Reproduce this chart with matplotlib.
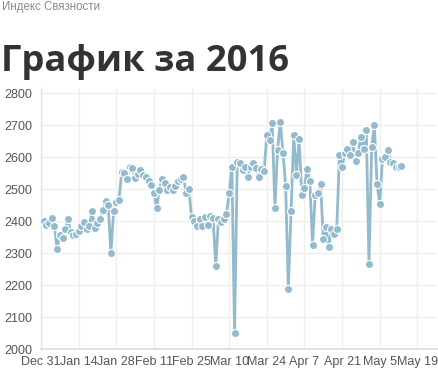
import matplotlib
matplotlib.use("Agg")
import matplotlib.pyplot as plt
import matplotlib.dates as mdates
import numpy as np
import pandas as pd

# ---- data ----
start_date = "2016-01-01"
values = [
    2400, 2388, 2395, 2409, 2384, 2314, 2357, 2347, 2374, 2408,
    2366, 2355, 2358, 2370, 2385, 2398, 2376, 2385, 2430, 2379,
    2393, 2408, 2435, 2462, 2450, 2300, 2430, 2460, 2466, 2553,
    2549, 2530, 2570, 2567, 2534, 2547, 2559, 2544, 2538, 2525,
    2513, 2489, 2441, 2497, 2533, 2518, 2498, 2507, 2497, 2509,
    2526, 2530, 2539, 2488, 2500, 2412, 2401, 2385, 2405, 2383,
    2412, 2387, 2416, 2410, 2260, 2405, 2397, 2405, 2422, 2487,
    2570, 2050, 2585, 2580, 2561, 2570, 2538, 2570, 2583, 2566,
    2539, 2562, 2558, 2668, 2653, 2708, 2442, 2623, 2711, 2614,
    2511, 2188, 2432, 2668, 2544, 2656, 2483, 2503, 2563, 2525,
    2326, 2481, 2487, 2517, 2343, 2380, 2319, 2376, 2360, 2375,
    2607, 2570, 2612, 2625, 2608, 2648, 2588, 2614, 2663, 2624,
    2686, 2265, 2631, 2699, 2516, 2453, 2593, 2601, 2623, 2586,
    2583, 2569, 2570, 2572,
]
xtick_dates = ["2015-12-31", "2016-01-14", "2016-01-28", "2016-02-11", "2016-02-25",
               "2016-03-10", "2016-03-24", "2016-04-07", "2016-04-21", "2016-05-05",
               "2016-05-19"]
xtick_labels = ["Dec 31", "Jan 14", "Jan 28", "Feb 11", "Feb 25", "Mar 10",
                "Mar 24", "Apr 7", "Apr 21", "May 5", "May 19"]
yticks = [2000, 2100, 2200, 2300, 2400, 2500, 2600, 2700, 2800]
subtitle = "Индекс Связности"
title = "График за 2016"

dates = pd.date_range(start_date, periods=len(values), freq="D")

W, H = 439, 373
fig = plt.figure(figsize=(W / 100, H / 100), dpi=100)
fig.patch.set_facecolor("white")

ax = fig.add_axes([41 / W, 1 - 349 / H, (437 - 41) / W, (349 - 88) / H])
ax.set_facecolor("white")

line_color = "#93bacd"
ax.plot(dates, values, color=line_color, lw=2, zorder=3, solid_joinstyle="round")
ax.scatter(dates, values, s=34, color=line_color, edgecolor="white", linewidths=0.8, zorder=4)

x0 = pd.Timestamp(xtick_dates[0])
ax.set_xlim(x0, x0 + pd.Timedelta(days=147.3))
ax.set_ylim(2000, 2816)

ax.set_xticks([pd.Timestamp(d) for d in xtick_dates])
ax.set_xticklabels(xtick_labels)
ax.set_yticks(yticks)
ax.set_yticklabels([str(v) for v in yticks])

ax.grid(True, color="#efefef", lw=1, zorder=0)
for s in ["top", "right"]:
    ax.spines[s].set_visible(False)
ax.spines["left"].set_color("#e6e6e6")
ax.spines["bottom"].set_color("#dcdcdc")
ax.spines["left"].set_linewidth(1)
ax.spines["bottom"].set_linewidth(1.2)
ax.tick_params(length=0, labelsize=9, labelcolor="#555555", pad=6)
ax.tick_params(axis="x", pad=5)
for lab in ax.get_xticklabels() + ax.get_yticklabels():
    lab.set_family("Liberation Sans")

fig.text(2 / W, 1 - 1 / H, subtitle, ha="left", va="top", fontsize=8.3,
         color="#8a8a8a", family="Liberation Sans")
fig.text(1 / W, 1 - 71 / H, title, ha="left", va="baseline", fontsize=26.2,
         color="#333333", family="Open Sans", fontweight="bold")

fig.savefig("out.png", dpi=100, facecolor="white")
